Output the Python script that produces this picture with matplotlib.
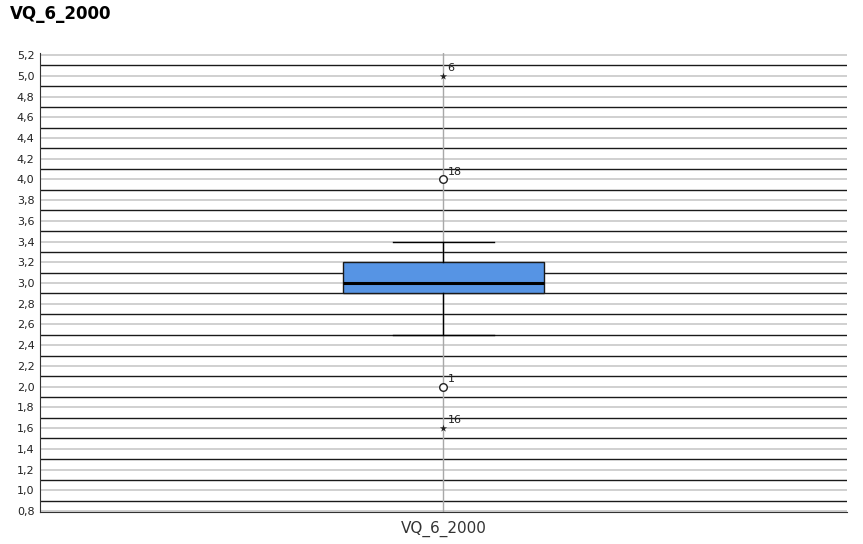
import numpy as np
import matplotlib.pyplot as plt
from matplotlib.ticker import FuncFormatter, MultipleLocator

# box summary
var_name = "VQ_6_2000"
q1, median, q3 = 2.9, 3.0, 3.2
whisker_low, whisker_high = 2.5, 3.4

# outliers (circle) and extremes (star) with case numbers
outlier_vals = [4.0, 2.0]
outlier_ids = ["18", "1"]
extreme_vals = [5.0, 1.6]
extreme_ids = ["6", "16"]

fig = plt.figure(figsize=(8.63, 5.44), dpi=100)
ax = fig.add_axes([0.0463, 0.0588, 0.9352, 0.8438])

ax.set_xlim(0, 2)
ax.set_ylim(0.79, 5.22)

# grey lines at major ticks, black lines in between
major = np.arange(0.8, 5.21, 0.2)
minor = np.arange(0.9, 5.2, 0.2)
for y in major:
    ax.axhline(y, color="#c8c8c8", lw=1.2, zorder=0)
for y in minor:
    ax.axhline(y, color="#1a1a1a", lw=1.0, zorder=0)
ax.axvline(1, color="#a8a8a8", lw=1.0, zorder=0)

stats = [dict(med=median, q1=q1, q3=q3, whislo=whisker_low, whishi=whisker_high, fliers=[])]
ax.bxp(stats, positions=[1], widths=0.5, patch_artist=True, showfliers=False,
       boxprops=dict(facecolor="#5694e4", edgecolor="#1a1a1a", lw=1.0),
       medianprops=dict(color="black", lw=2.2),
       whiskerprops=dict(color="black", lw=1.0),
       capprops=dict(color="black", lw=1.0), capwidths=0.25, zorder=3)

ax.scatter([1] * len(outlier_vals), outlier_vals, s=30, facecolor="white",
           edgecolor="#222222", lw=1.0, zorder=4)
ax.scatter([1] * len(extreme_vals), extreme_vals, s=30, marker="*",
           color="#222222", lw=0, zorder=4)
for v, lab in zip(outlier_vals + extreme_vals, outlier_ids + extreme_ids):
    ax.annotate(lab, (1, v), xytext=(3, 3.5), textcoords="offset points",
                fontsize=8, color="#222222")

ax.yaxis.set_major_locator(MultipleLocator(0.2))
ax.yaxis.set_major_formatter(FuncFormatter(lambda v, p: f"{v:.1f}".replace(".", ",")))
ax.set_xticks([1])
ax.set_xticklabels([var_name], fontsize=11, color="#333333")
ax.tick_params(axis="y", labelsize=8, length=0, pad=4, labelcolor="#222222")
ax.tick_params(axis="x", length=0, pad=6)

for s in ["top", "right"]:
    ax.spines[s].set_visible(False)
ax.spines["left"].set_color("#333333")
ax.spines["bottom"].set_color("#333333")

fig.text(0.012, 0.974, var_name, fontsize=12, fontweight="bold", va="center")

fig.savefig("out.png", dpi=100)
